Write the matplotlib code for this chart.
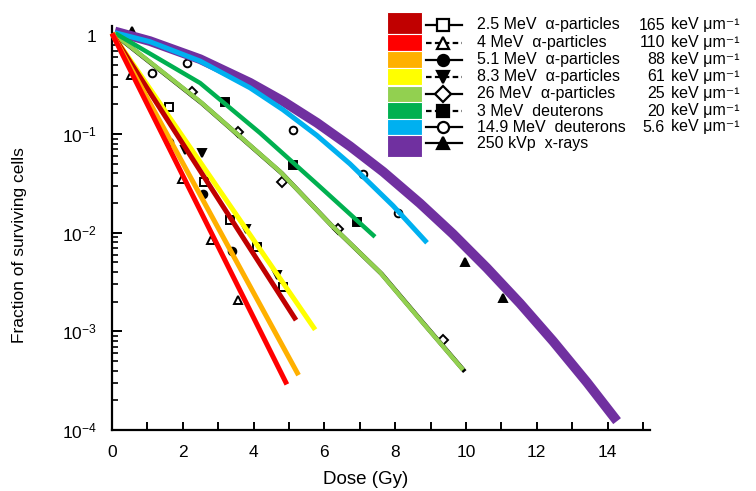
import numpy as np
import matplotlib; matplotlib.use("Agg")
import matplotlib.pyplot as plt
from matplotlib.patches import Rectangle
from matplotlib.lines import Line2D
import matplotlib.patheffects as pe
from matplotlib.ticker import FixedLocator, FuncFormatter, NullFormatter

plt.rcParams['font.family'] = ['Liberation Sans', 'DejaVu Sans']
plt.rcParams['mathtext.fontset'] = 'custom'
plt.rcParams['mathtext.rm'] = 'Liberation Sans'
plt.rcParams['mathtext.it'] = 'Liberation Sans:italic'
plt.rcParams['mathtext.bf'] = 'Liberation Sans:bold'

# legend entries
labels = ['2.5 MeV  α-particles', '4 MeV  α-particles', '5.1 MeV  α-particles', '8.3 MeV  α-particles',
          '26 MeV  α-particles', '3 MeV  deuterons', '14.9 MeV  deuterons', '250 kVp  x-rays']
let_vals = ['165', '110', '88', '61', '25', '20', '5.6', '']
colors = ['#C00000', '#FF0000', '#FFB000', '#FFFF00', '#92D050', '#00B050', '#00B0F0', '#7030A0']
markers = ['s', '^', 'o', 'v', 'D', 's', 'o', '^']
filled = [False, False, True, True, False, True, False, True]
dashed = [False, True, False, True, False, True, False, False]

# coloured survival curves: dose (Gy), surviving fraction
fit_dose = [
    [0, 5.2],
    [0, 4.94],
    [0, 5.27],
    [0, 5.74],
    [0.05, 2.49, 4.75, 6.16, 7.57, 8.75, 9.92],
    [0.1, 2.49, 4.18, 5.8, 7.43],
    [0.08, 1.07, 2.49, 3.9, 4.83, 5.79, 6.72, 7.94, 8.9],
    [0.08, 1.07, 2.49, 3.9, 4.83, 5.79, 6.72, 7.66, 8.7, 9.63, 10.59, 11.53, 12.46, 13.42, 14.27],
]
fit_surv = [
    [1.05, 1.3e-3],
    [1.05, 2.9e-4],
    [1.05, 3.6e-4],
    [1.05, 1.04e-3],
    [1.05, 0.214, 0.0417, 0.0123, 3.98e-3, 1.26e-3, 4.07e-4],
    [1.05, 0.33, 0.103, 0.031, 9.1e-3],
    [1.07, 0.867, 0.551, 0.295, 0.177, 0.097, 0.0501, 0.0188, 7.92e-3],
    [1.10, 0.879, 0.576, 0.332, 0.216, 0.1305, 0.0757, 0.0416, 0.0199, 9.75e-3, 4.4e-3, 1.92e-3, 7.97e-4,
     3.04e-4, 1.23e-4],
]
fit_width = [3.6, 3.6, 3.6, 3.6, 3.2, 3.2, 3.6, 7.0]

# measured points (black symbols of the scanned figure)
pt_dose = [
    [1.62, 2.61, 3.32, 4.09, 4.83],
    [0.54, 1.99, 2.81, 3.55],
    [1.62, 2.56, 3.38],
    [2.05, 2.53, 3.8, 4.66],
    [2.27, 3.55, 4.8, 6.39, 9.35],
    [3.18, 5.11, 6.93],
    [1.14, 2.13, 5.11, 7.1, 8.07],
    [0.57, 9.97, 11.05],
]
pt_surv = [
    [0.19, 0.033, 0.0135, 7.2e-3, 2.8e-3],
    [0.40, 0.035, 8.5e-3, 2.1e-3],
    [0.083, 0.025, 6.5e-3],
    [0.069, 0.064, 0.011, 3.7e-3],
    [0.27, 0.106, 0.033, 0.011, 8.1e-4],
    [0.21, 0.049, 0.0128],
    [0.42, 0.53, 0.111, 0.039, 0.016],
    [1.1, 5.1e-3, 2.2e-3],
]

W, H = 756, 491
fig = plt.figure(figsize=(W / 100, H / 100), dpi=100)
ax = fig.add_axes([112 / W, 1 - 430 / H, 538 / W, 404 / H])

draw_order = [7, 6, 4, 5, 3, 0, 2, 1]
for i in range(8):
    ax.plot(pt_dose[i], pt_surv[i], ls='none', marker=markers[i], ms=5.5, mec='k', mew=1.4,
            mfc='k' if filled[i] else 'white', zorder=1, clip_on=False)
for z, i in enumerate(draw_order):
    kw = {}
    if i == 4:
        kw['path_effects'] = [pe.SimpleLineShadow(offset=(1.2, -1.2), shadow_color='k', alpha=1), pe.Normal()]
    ax.plot(fit_dose[i], fit_surv[i], color=colors[i], lw=fit_width[i], solid_capstyle='butt',
            solid_joinstyle='round', zorder=2 + z, clip_on=False, **kw)

ax.set_yscale('log')
ax.set_xlim(0, 15.2)
ax.set_ylim(1e-4, 1.25)
for s in ['top', 'right']:
    ax.spines[s].set_visible(False)
for s in ['left', 'bottom']:
    ax.spines[s].set_linewidth(1.6)

ax.xaxis.set_major_locator(FixedLocator(np.arange(0, 15, 2)))
ax.xaxis.set_minor_locator(FixedLocator(np.arange(1, 16, 2)))
ax.yaxis.set_major_locator(FixedLocator([1e-4, 1e-3, 1e-2, 1e-1, 1]))
ax.yaxis.set_minor_locator(FixedLocator([m * 10.0 ** e for e in range(-4, 0) for m in range(2, 10)]))
ax.yaxis.set_minor_formatter(NullFormatter())
ax.yaxis.set_major_formatter(FuncFormatter(lambda v, p: '1' if v >= 1 else r'$10^{%d}$' % round(np.log10(v))))
ax.tick_params(axis='x', which='both', direction='in', length=6, width=1.4, pad=11, labelsize=12.5)
ax.tick_params(axis='y', which='major', direction='in', length=7, width=1.4, pad=11, labelsize=12.5)
ax.tick_params(axis='y', which='minor', direction='in', length=4, width=1.2)

fig.text(366 / W, 1 - 480 / H, 'Dose (Gy)', ha='center', va='center', fontsize=13.5)
fig.text(20 / W, 1 - 245 / H, 'Fraction of surviving cells', ha='center', va='center', rotation=90, fontsize=12.5)

# legend, drawn by hand in pixel positions
def fx(px): return px / W
def fy(py): return 1 - py / H

row_y = [25, 42.5, 60, 77, 94, 111, 127, 143]
bounds = [12] + [(row_y[k] + row_y[k + 1]) / 2 for k in range(7)] + [157]
for i in range(8):
    top, bot = bounds[i], bounds[i + 1]
    fig.add_artist(Rectangle((fx(387), fy(bot)), 35 / W, (bot - top) / H, transform=fig.transFigure,
                             facecolor=colors[i], edgecolor='white', lw=0.8))
    fig.add_artist(Line2D([fx(426), fx(462)], [fy(row_y[i])] * 2, transform=fig.transFigure, color='k',
                          lw=1.6, ls=(0, (2.5, 1.5)) if dashed[i] else '-'))
    fig.add_artist(Line2D([fx(443)], [fy(row_y[i])], transform=fig.transFigure, ls='none', marker=markers[i],
                          ms=8, mec='k', mew=1.6, mfc='k' if filled[i] else 'white'))
    fig.text(fx(477), fy(row_y[i]), labels[i], ha='left', va='center', fontsize=11.5)
    if let_vals[i]:
        fig.text(fx(665), fy(row_y[i]), let_vals[i], ha='right', va='center', fontsize=11.5)
        fig.text(fx(671), fy(row_y[i]), 'keV μm⁻¹', ha='left', va='center', fontsize=11.5)

fig.savefig('out.png', dpi=100)
